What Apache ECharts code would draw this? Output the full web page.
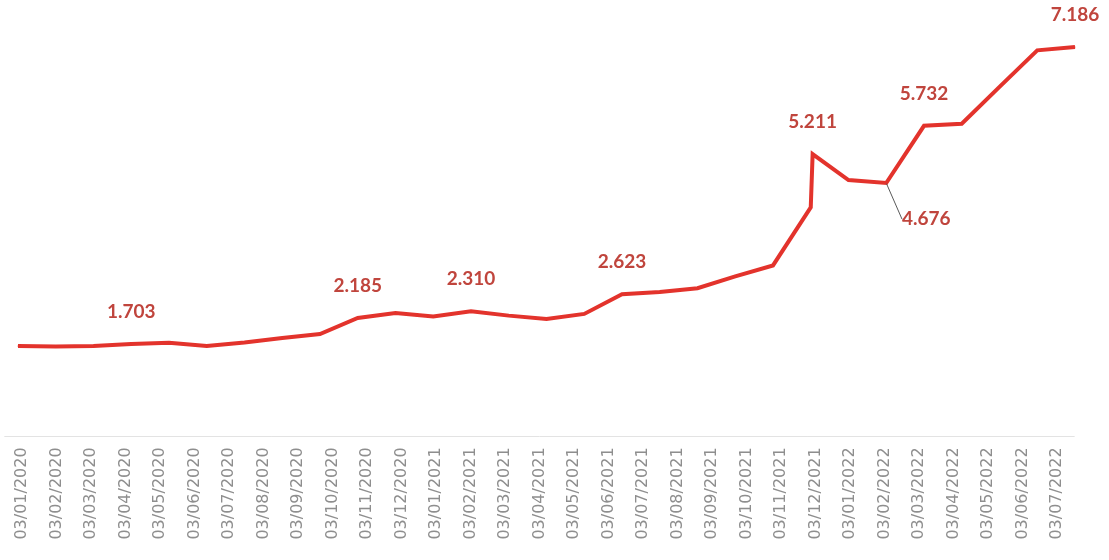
<!DOCTYPE html>
<html>
<head>
<meta charset="utf-8">
<script src="https://cdn.jsdelivr.net/npm/echarts@6/dist/echarts.min.js"></script>
<style>
html,body{margin:0;padding:0;background:#fff;}
#chart{width:1109px;height:560px;}
</style>
</head>
<body>
<div id="chart"></div>
<script>
// Tick labels on the category axis
const categories = [
  '03/01/2020','03/02/2020','03/03/2020','03/04/2020','03/05/2020','03/06/2020',
  '03/07/2020','03/08/2020','03/09/2020','03/10/2020','03/11/2020','03/12/2020',
  '03/01/2021','03/02/2021','03/03/2021','03/04/2021','03/05/2021','03/06/2021',
  '03/07/2021','03/08/2021','03/09/2021','03/10/2021','03/11/2021','03/12/2021',
  '03/01/2022','03/02/2022','03/03/2022','03/04/2022','03/05/2022','03/06/2022',
  '03/07/2022'
];
// Observation index of each point (the series is sampled on its own step)
const obsIndex = [0,1,2,3,4,5,6,7,8,9,10,11,12,13,14,15,16,17,18,19,20,21,21.05,22,23,24,25,26,27,28];
// Series values
const values = [
  1.668,1.659,1.668,1.703,1.730,1.668,1.731,1.815,1.889,2.185,
  2.277,2.212,2.310,2.229,2.166,2.260,2.623,2.664,2.734,2.952,
  3.155,4.225,5.211,4.731,4.676,5.732,5.771,6.450,7.125,7.186
];
// Points with a value label above, and the one labelled below-right
const labelAbove = [3,9,12,16,22,25,29];
const labelBelow = [24];

const RED = '#e3332c';
const LABEL = '#c0453d';

const seriesData = values.map((v, i) => {
  const item = { value: [obsIndex[i], v] };
  if (labelAbove.includes(i)) {
    item.label = { show: true, position: 'top', distance: 22 };
  } else if (labelBelow.includes(i)) {
    item.label = { show: true, position: 'bottom', distance: 6 };
    item.labelLine = { show: true, lineStyle: { color: '#5a5a5a', width: 1 } };
  }
  return item;
});

const chart = echarts.init(document.getElementById('chart'), null, { renderer: 'canvas' });
chart.setOption({
  animation: false,
  backgroundColor: '#ffffff',
  grid: [
    { left: 4.75, right: 34.75, top: 30, bottom: 123.6 },
    { left: 18, right: 34, top: 30, bottom: 123.6 }
  ],
  xAxis: [
    {
      gridIndex: 0, type: 'category', data: categories, boundaryGap: true,
      axisLine: { show: true, lineStyle: { color: '#e3e3e3', width: 1 } },
      axisTick: { show: false },
      axisLabel: {
        interval: 0, rotate: 90, margin: 11, color: '#8e8e8e',
        fontSize: 16, fontFamily: 'DejaVu Sans'
      },
      splitLine: { show: false }
    },
    { gridIndex: 1, type: 'value', min: 0, max: 28, show: false }
  ],
  yAxis: [
    { gridIndex: 0, type: 'value', min: 0, max: 7.5, show: false },
    { gridIndex: 1, type: 'value', min: 0, max: 7.5, show: false }
  ],
  series: [{
    type: 'line',
    xAxisIndex: 1, yAxisIndex: 1,
    data: seriesData,
    symbol: 'circle', symbolSize: 1, showSymbol: true,
    itemStyle: { color: RED },
    lineStyle: { color: RED, width: 4, join: 'miter' },
    clip: false,
    label: {
      show: false,
      color: LABEL, fontSize: 19, fontWeight: 'bold', fontFamily: 'Lato',
      formatter: p => p.value[1].toFixed(3)
    },
    labelLine: { show: false },
    labelLayout: function (params) {
      if (labelBelow.includes(params.dataIndex)) {
        return { dx: 40, dy: 20 };
      }
      return {};
    }
  }]
});
</script>
</body>
</html>
